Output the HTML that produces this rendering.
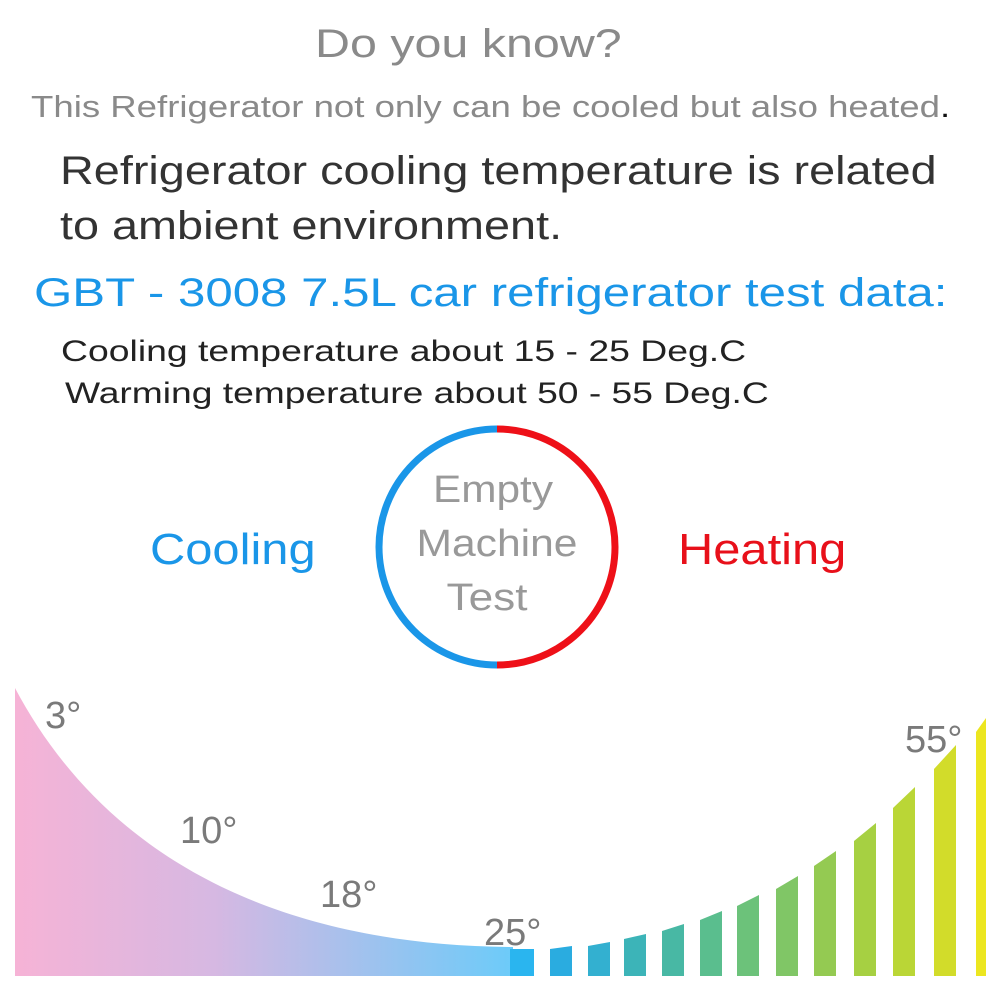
<!DOCTYPE html>
<html><head><style>
body{margin:0;width:1000px;height:1000px;background:#fff;position:relative;overflow:hidden;font-family:"Liberation Sans",sans-serif}
.t{position:absolute;white-space:nowrap;line-height:1;transform-origin:0 0}
</style></head><body>
<div class="t" style="left:315px;top:24px;font-size:40px;color:#8a8a8a;transform:scaleX(1.21)">Do you know?</div>
<div class="t" style="left:31px;top:91px;font-size:31px;color:#8a8a8a;transform:scaleX(1.18)">This Refrigerator not only can be cooled but also heated<span style="color:#111">.</span></div>
<div class="t" style="left:60px;top:151px;font-size:40px;color:#333;transform:scaleX(1.17)">Refrigerator cooling temperature is related</div>
<div class="t" style="left:60px;top:206px;font-size:40px;color:#333;transform:scaleX(1.17)">to ambient environment.</div>
<div class="t" style="left:34px;top:273px;font-size:40px;color:#1a96e8;transform:scaleX(1.23)">GBT - 3008 7.5L car refrigerator test data:</div>
<div class="t" style="left:61px;top:337px;font-size:30px;color:#222;transform:scaleX(1.245)">Cooling temperature about 15 - 25 Deg.C</div>
<div class="t" style="left:65px;top:379px;font-size:30px;color:#222;transform:scaleX(1.24)">Warming temperature about 50 - 55 Deg.C</div>
<div class="t" style="left:150px;top:528px;font-size:44px;color:#1a96e8;transform:scaleX(1.11)">Cooling</div>
<div class="t" style="left:678px;top:528px;font-size:44px;color:#e8101a;transform:scaleX(1.11)">Heating</div>
<svg width="1000" height="1000" style="position:absolute;left:0;top:0">
<defs><linearGradient id="g" x1="15" x2="513" y1="0" y2="0" gradientUnits="userSpaceOnUse">
<stop offset="0" stop-color="#f6b3d6"/><stop offset="0.4" stop-color="#d6b8e2"/><stop offset="1" stop-color="#6ccbf9"/></linearGradient></defs>
<path d="M497,429 A118,118 0 0 0 497,665" fill="none" stroke="#1a96e8" stroke-width="7"/>
<path d="M497,429 A118,118 0 0 1 497,665" fill="none" stroke="#ee1018" stroke-width="7"/>
<g font-family="Liberation Sans" font-size="38" fill="#999" text-anchor="middle">
<text x="493" y="502" textLength="120" lengthAdjust="spacingAndGlyphs">Empty</text>
<text x="497" y="556" textLength="161" lengthAdjust="spacingAndGlyphs">Machine</text>
<text x="487" y="610" textLength="81" lengthAdjust="spacingAndGlyphs">Test</text>
</g>
<path d="M15,688 C90,830 240,945 513,947 L513,976 L15,976 Z" fill="url(#g)"/>
<rect x="510" y="949" width="24" height="27" fill="#2ab5ef"/>
<polygon points="550,949 572,946 572,976 550,976" fill="#2aace0"/>
<polygon points="588,946 610,942 610,976 588,976" fill="#33b0d0"/>
<polygon points="624,939 646,934 646,976 624,976" fill="#3cb4b8"/>
<polygon points="662,931 684,924 684,976 662,976" fill="#48b8a4"/>
<polygon points="700,920 722,911 722,976 700,976" fill="#5abe8e"/>
<polygon points="737,906 759,895 759,976 737,976" fill="#6cc27a"/>
<polygon points="776,889 798,876 798,976 776,976" fill="#80c666"/>
<polygon points="814,866 836,851 836,976 814,976" fill="#94ca52"/>
<polygon points="854,841 876,823 876,976 854,976" fill="#a6d042"/>
<polygon points="893,808 915,787 915,976 893,976" fill="#bad636"/>
<polygon points="934,769 956,745 956,976 934,976" fill="#d2dc2a"/>
<polygon points="976,732 986,718 986,976 976,976" fill="#ece620"/>
<g font-family="Liberation Sans" font-size="38" fill="#7a7a7a">
<text x="45" y="728">3°</text>
<text x="180" y="843">10°</text>
<text x="320" y="907">18°</text>
<text x="484" y="945">25°</text>
<text x="905" y="752">55°</text>
</g>
</svg>
</body></html>
